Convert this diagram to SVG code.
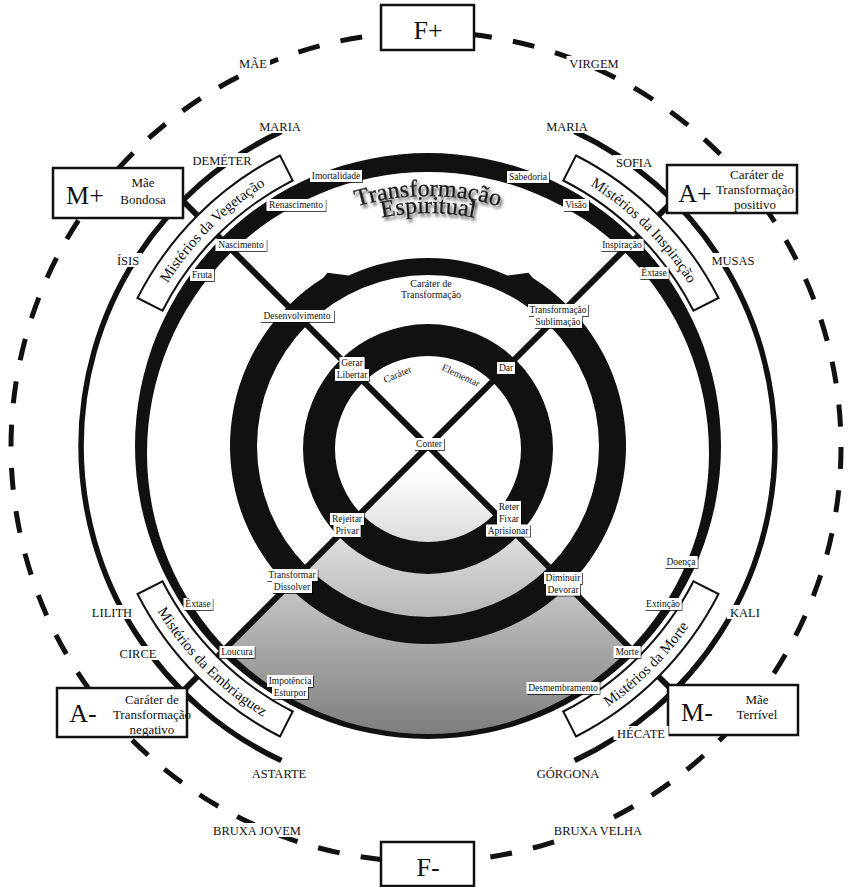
<svg xmlns="http://www.w3.org/2000/svg" width="848" height="887" viewBox="0 0 848 887">
<defs>
<style>
text{font-family:"Liberation Serif","DejaVu Serif",serif;fill:#111}
.s{font-size:9.5px;text-anchor:middle}
.o{font-size:12.5px;text-anchor:middle}
.bt{font-size:13px;text-anchor:middle}
.big{font-size:26px;text-anchor:middle}
.mys{font-size:15px;text-anchor:middle}
.ttl{font-size:24px;text-anchor:middle;fill:#1a1a1a;stroke:#1a1a1a;stroke-width:0.3;filter:url(#ts)}
.box{fill:#fff;stroke:#111;stroke-width:2.5}
.mbox{fill:#fff;stroke:#111;stroke-width:2}
.lb{fill:#fff;filter:url(#ds)}
.wb{fill:#fff}
.ring{fill:#111;fill-rule:evenodd}
.diag{stroke:#111;stroke-width:6;fill:none}
.thin{stroke:#111;stroke-width:5.5;fill:none}
</style>
<linearGradient id="gr" gradientUnits="userSpaceOnUse" x1="0" y1="446" x2="0" y2="736">
<stop offset="0.08" stop-color="#ffffff"/><stop offset="1" stop-color="#7d7d7d"/>
</linearGradient>
<filter id="ds" x="-10%" y="-20%" width="130%" height="160%">
<feDropShadow dx="0.8" dy="0.9" stdDeviation="0.3" flood-color="#000" flood-opacity="0.8"/>
</filter>
<filter id="ts" x="-10%" y="-30%" width="120%" height="170%">
<feGaussianBlur in="SourceAlpha" stdDeviation="1.6"/><feOffset dx="2" dy="3" result="b"/>
<feFlood flood-color="#555"/><feComposite in2="b" operator="in"/>
<feMerge><feMergeNode/><feMergeNode in="SourceGraphic"/></feMerge>
</filter>
<path id="pT" d="M 178,446 A 250 250 0 0 1 678,446"/>
<path id="pE" d="M 195,446 A 233 233 0 0 1 661,446"/>
<path id="pVeg" d="M 125.7,392.7 A 307 307 0 0 1 374.7,143.7"/>
<path id="pIns" d="M 481.3,143.7 A 307 307 0 0 1 730.3,392.7"/>
<path id="pEmb" d="M 115.8,501 A 317 317 0 0 0 373,758.2"/>
<path id="pMor" d="M 483,758.2 A 317 317 0 0 0 740.2,501"/>
</defs>
<rect width="848" height="887" fill="#fff"/>

<g id="shading">
<path d="M 428,446 L 222.9,651.1 A 290 290 0 0 0 633.1,651.1 Z" fill="url(#gr)"/>
</g>

<g id="connectors">
<line class="diag" x1="178" y1="196" x2="678" y2="696"/>
<line class="diag" x1="678" y1="196" x2="178" y2="696"/>
</g>

<g id="rings">
<path class="ring" d="M 135,446 A 293 293 0 1 1 721,446 A 293 293 0 1 1 135,446 Z M 147,453 A 281 281 0 1 0 709,453 A 281 281 0 1 0 147,453 Z"/>
<path class="ring" d="M 348.6,275.6 A 188 188 0 0 1 507.4,275.6 L 528.5,272.8 L 532.9,278.1 A 198 198 0 1 1 323.1,278.1 L 327.5,272.8 Z M 257,446 A 171 171 0 1 0 599,446 A 171 171 0 1 0 257,446 Z"/>
<path class="ring" d="M 303,449 A 125 125 0 1 1 553,449 A 125 125 0 1 1 303,449 Z M 335,449 A 93 93 0 1 0 521,449 A 93 93 0 1 0 335,449 Z"/>
<path class="thin" d="M 281.4,131.5 A 347 347 0 0 0 281.4,760.5"/>
<path class="thin" d="M 574.6,131.5 A 347 347 0 0 1 574.6,760.5"/>
<circle cx="426" cy="447" r="415" fill="none" stroke="#111" stroke-width="5" stroke-dasharray="22 21.46"/>
</g>

<g id="title">
<text class="ttl"><textPath href="#pT" startOffset="50%">Transformação</textPath></text>
<text class="ttl"><textPath href="#pE" startOffset="50%">Espiritual</textPath></text>
</g>

<g id="mist-vegetacao">
<path class="mbox" d="M 137.5,298 A 326 326 0 0 1 280,155.5 L 292.7,180.5 A 298 298 0 0 0 162.5,310.7 Z"/>
<text class="mys"><textPath href="#pVeg" startOffset="50%">Mistérios da Vegetação</textPath></text>
</g>
<g id="mist-inspiracao">
<path class="mbox" d="M 576,155.5 A 326 326 0 0 1 718.5,298 L 693.5,310.7 A 298 298 0 0 0 563.3,180.5 Z"/>
<text class="mys"><textPath href="#pIns" startOffset="50%">Mistérios da Inspiração</textPath></text>
</g>
<g id="mist-embriaguez">
<path class="mbox" d="M 137.5,594 A 326 326 0 0 0 280,736.5 L 292.7,711.5 A 298 298 0 0 1 162.5,581.3 Z"/>
<text class="mys"><textPath href="#pEmb" startOffset="50%">Mistérios da Embriaguez</textPath></text>
</g>
<g id="mist-morte">
<path class="mbox" d="M 718.5,594 A 326 326 0 0 1 576,736.5 L 563.3,711.5 A 298 298 0 0 0 693.5,581.3 Z"/>
<text class="mys"><textPath href="#pMor" startOffset="50%">Mistérios da Morte</textPath></text>
</g>

<g id="node-Fplus"><rect class="box" x="381" y="5" width="93" height="45"/><text class="big" x="428" y="39">F+</text></g>
<g id="node-Fminus"><rect class="box" x="381" y="842" width="93" height="44"/><text class="big" x="428" y="876">F-</text></g>
<g id="node-Mplus"><rect class="box" x="53" y="168" width="130" height="50"/>
<text class="big" x="85" y="204">M+</text><text class="bt" x="143" y="187">Mãe</text><text class="bt" x="143" y="204">Bondosa</text></g>
<g id="node-Aplus"><rect class="box" x="667" y="165" width="130" height="48"/>
<text class="big" x="695" y="202">A+</text><text class="bt" x="757" y="179">Caráter de</text><text class="bt" x="755" y="194">Transformação</text><text class="bt" x="755" y="209">positivo</text></g>
<g id="node-Aminus"><rect class="box" x="57" y="688" width="130" height="49"/>
<text class="big" x="83" y="722">A-</text><text class="bt" x="152" y="704">Caráter de</text><text class="bt" x="152" y="719">Transformação</text><text class="bt" x="152" y="734">negativo</text></g>
<g id="node-Mminus"><rect class="box" x="668" y="685" width="130" height="50"/>
<text class="big" x="697" y="721">M-</text><text class="bt" x="757" y="704">Mãe</text><text class="bt" x="757" y="719">Terrível</text></g>

<g id="outer-labels">
<rect class="wb" x="236" y="56" width="34" height="14"/><text class="o" x="253" y="67.5">MÃE</text>
<rect class="wb" x="566.5" y="56" width="55" height="14"/><text class="o" x="594" y="67.5">VIRGEM</text>
<rect class="wb" x="256" y="119" width="48" height="14"/><text class="o" x="280" y="130.5">MARIA</text>
<rect class="wb" x="543" y="119" width="48" height="14"/><text class="o" x="567" y="130.5">MARIA</text>
<rect class="wb" x="189.5" y="153" width="65" height="14"/><text class="o" x="222" y="164.5">DEMÉTER</text>
<rect class="wb" x="613" y="155" width="42" height="14"/><text class="o" x="634" y="166.5">SOFIA</text>
<rect class="wb" x="114" y="253" width="28" height="14"/><text class="o" x="128" y="264.5">ÍSIS</text>
<rect class="wb" x="708.5" y="253" width="49" height="14"/><text class="o" x="733" y="264.5">MUSAS</text>
<rect class="wb" x="89" y="605" width="46" height="14"/><text class="o" x="112" y="616.5">LILITH</text>
<rect class="wb" x="116.5" y="646" width="43" height="14"/><text class="o" x="138" y="657.5">CIRCE</text>
<rect class="wb" x="727" y="605" width="36" height="14"/><text class="o" x="745" y="616.5">KALI</text>
<rect class="wb" x="613.5" y="726" width="55" height="14"/><text class="o" x="641" y="737.5">HÉCATE</text>
<rect class="wb" x="248" y="766" width="62" height="14"/><text class="o" x="279" y="777.5">ASTARTE</text>
<rect class="wb" x="534" y="766" width="68" height="14"/><text class="o" x="568" y="777.5">GÓRGONA</text>
<rect class="wb" x="210" y="823" width="94" height="14"/><text class="o" x="257" y="834.5">BRUXA JOVEM</text>
<rect class="wb" x="550.5" y="823" width="95" height="14"/><text class="o" x="598" y="834.5">BRUXA VELHA</text>
</g>

<g id="inner-titles">
<text class="s" style="font-size:10px" x="431" y="286.5">Caráter de</text>
<text class="s" style="font-size:10px" x="431" y="298">Transformação</text>
<text class="s" style="font-size:10px" transform="translate(397.5,374.2) rotate(-23)" y="3.5">Caráter</text>
<text class="s" style="font-size:10px" transform="translate(461,375.3) rotate(25)" y="3.5">Elementar</text>
</g>

<g id="ring-labels">
<rect class="lb" x="310" y="170" width="52" height="12"/><text class="s" x="336" y="179.3">Imortalidade</text>
<rect class="lb" x="266.5" y="199" width="59" height="12"/><text class="s" x="296" y="208.3">Renascimento</text>
<rect class="lb" x="215.5" y="239" width="51" height="12"/><text class="s" x="241" y="248.3">Nascimento</text>
<rect class="lb" x="190" y="269" width="24" height="12"/><text class="s" x="202" y="278.3">Fruta</text>
<rect class="lb" x="260" y="310" width="74" height="12"/><text class="s" x="297" y="319.3">Desenvolvimento</text>
<rect class="lb" x="507" y="171" width="42" height="12"/><text class="s" x="528" y="180.3">Sabedoria</text>
<rect class="lb" x="563" y="199" width="26" height="12"/><text class="s" x="576" y="208.3">Visão</text>
<rect class="lb" x="600.5" y="239" width="43" height="12"/><text class="s" x="622" y="248.3">Inspiração</text>
<rect class="lb" x="639.5" y="267" width="29" height="12"/><text class="s" x="654" y="276.3">Êxtase</text>
<rect class="lb" x="528" y="304" width="60" height="12"/><text class="s" x="558" y="313.3">Transformação</text>
<rect class="lb" x="534" y="316" width="48" height="12"/><text class="s" x="558" y="325.3">Sublimação</text>
<rect class="lb" x="339.5" y="357" width="25" height="12"/><text class="s" x="352" y="366.3">Gerar</text>
<rect class="lb" x="335" y="369" width="34" height="12"/><text class="s" x="352" y="378.3">Libertar</text>
<rect class="lb" x="497" y="362" width="18" height="12"/><text class="s" x="506" y="371.3">Dar</text>
<rect class="lb" x="414" y="438" width="30" height="12"/><text class="s" x="429" y="447.3">Conter</text>
<rect class="lb" x="330" y="513" width="34" height="12"/><text class="s" x="347" y="522.3">Rejeitar</text>
<rect class="lb" x="333.5" y="525" width="27" height="12"/><text class="s" x="347" y="534.3">Privar</text>
<rect class="lb" x="266.5" y="569" width="51" height="12"/><text class="s" x="292" y="578.3">Transformar</text>
<rect class="lb" x="272" y="581" width="40" height="12"/><text class="s" x="292" y="590.3">Dissolver</text>
<rect class="lb" x="183.5" y="598" width="29" height="12"/><text class="s" x="198" y="607.3">Êxtase</text>
<rect class="lb" x="219.5" y="646" width="35" height="12"/><text class="s" x="237" y="655.3">Loucura</text>
<rect class="lb" x="267" y="675" width="46" height="12"/><text class="s" x="290" y="684.3">Impotência</text>
<rect class="lb" x="272" y="687" width="36" height="12"/><text class="s" x="290" y="696.3">Esturpor</text>
<rect class="lb" x="497" y="501" width="24" height="12"/><text class="s" x="509" y="510.3">Reter</text>
<rect class="lb" x="497" y="513" width="24" height="12"/><text class="s" x="509" y="522.3">Fixar</text>
<rect class="lb" x="486" y="524.5" width="44" height="12"/><text class="s" x="508" y="533.8">Aprisionar</text>
<rect class="lb" x="544" y="572" width="38" height="12"/><text class="s" x="563" y="581.3">Diminuir</text>
<rect class="lb" x="546" y="583.5" width="34" height="12"/><text class="s" x="563" y="592.8">Devorar</text>
<rect class="lb" x="664.5" y="556" width="33" height="12"/><text class="s" x="681" y="565.3">Doença</text>
<rect class="lb" x="644.5" y="598" width="37" height="12"/><text class="s" x="663" y="607.3">Extinção</text>
<rect class="lb" x="613.5" y="646" width="27" height="12"/><text class="s" x="627" y="655.3">Morte</text>
<rect class="lb" x="526.5" y="682" width="73" height="12"/><text class="s" x="563" y="691.3">Desmembramento</text>
</g>
</svg>
